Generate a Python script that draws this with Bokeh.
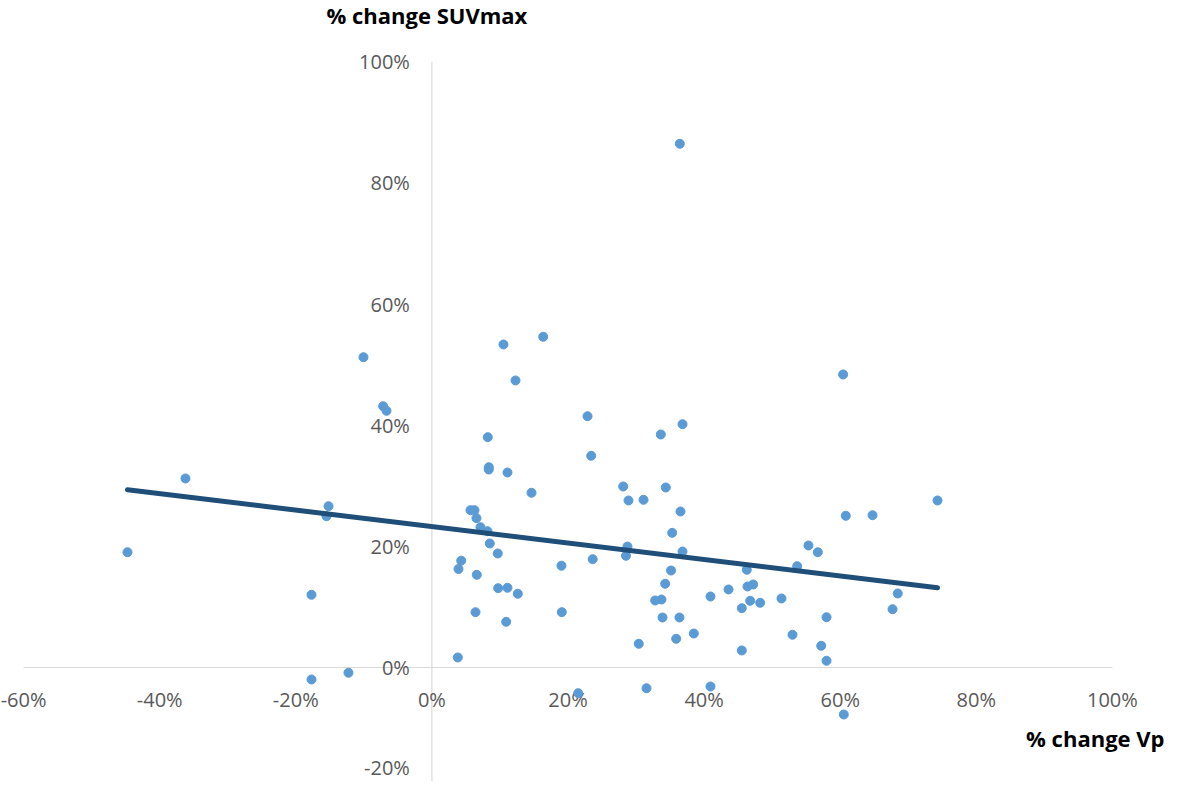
from bokeh.plotting import figure
from bokeh.models import Range1d, ColumnDataSource
from bokeh.core.properties import value
from bokeh.embed import file_html
from bokeh.resources import INLINE

# ---- data, in percent ----
vp_change = [36.43, 16.36, 10.52, -10.05, 12.29, 60.43, -7.16, -6.67, 22.87, 36.83,
             33.64, 8.21, 23.41, 8.36, 8.36, 11.11, -36.21, 14.64, 28.11, 34.37,
             28.89, 31.10, 74.30, -15.19, 5.67, 6.26, 36.53, 60.82, 64.75, -15.49,
             6.55, 7.14, 8.17, 35.31, 8.51, 55.34, 28.74, 36.83, -44.73, 56.71,
             9.68, 28.52, 23.63, 4.31, 19.04, 53.68, 46.27, 3.91, 35.14, 6.60,
             34.28, 47.21, 46.38, 43.59, 68.46, -17.69, 9.74, 11.11, 12.62, 40.94,
             51.37, 33.74, 32.81, 46.77, 48.24, 45.54, 67.69, 6.41, 19.09, 33.89,
             36.38, 57.99, 10.92, 38.49, 52.99, 35.90, 30.40, 57.21, 45.54, 57.99,
             3.81, -12.26, -17.69, 21.50, 31.54, 40.94, 60.53]
suv_change = [86.45, 54.59, 53.32, 51.22, 47.38, 48.37, 43.13, 42.37, 41.48, 40.16,
              38.46, 38.02, 34.95, 33.06, 32.68, 32.19, 31.20, 28.84, 29.88, 29.71,
              27.57, 27.68, 27.57, 26.63, 25.97, 25.97, 25.75, 25.04, 25.14, 24.97,
              24.65, 23.16, 22.50, 22.23, 20.47, 20.14, 19.97, 19.15, 19.03, 19.03,
              18.82, 18.44, 17.88, 17.63, 16.80, 16.72, 16.13, 16.26, 16.01, 15.30,
              13.82, 13.70, 13.37, 12.88, 12.22, 12.00, 13.09, 13.16, 12.17, 11.72,
              11.39, 11.22, 11.06, 11.01, 10.68, 9.79, 9.62, 9.13, 9.13, 8.25,
              8.25, 8.30, 7.54, 5.61, 5.40, 4.74, 3.91, 3.58, 2.81, 1.11,
              1.65, -0.87, -1.98, -4.24, -3.42, -3.14, -7.76]

# linear trendline as drawn in the reference
trend_slope = -0.136
trend_intercept = 23.26

x_ticks = [-60, -40, -20, 0, 20, 40, 60, 80, 100]
x_tick_labels = ["-60%", "-40%", "-20%", "0%", "20%", "40%", "60%", "80%", "100%"]
y_ticks = [-20, 0, 20, 40, 60, 80, 100]
y_tick_labels = ["-20%", "0%", "20%", "40%", "60%", "80%", "100%"]

y_title = "% change SUVmax"
x_title = "% change Vp"

# ---- styling ----
DOT = "#5B9BD5"
TREND = "#1F4E79"
AXIS = "#D9D9D9"
TICK_TXT = "#595959"
FONT = value("Open Sans")

p = figure(width=1165, height=781,
           x_range=Range1d(-63.39, 107.80), y_range=Range1d(-18.82, 110.10),
           x_axis_type=None, y_axis_type=None,
           toolbar_location=None, output_backend="svg", min_border=0)
p.outline_line_color = None
p.grid.visible = False
p.background_fill_color = "white"
p.border_fill_color = "white"

# axes crossing at zero
p.segment(x0=[x_ticks[0], 0], y0=[0, y_ticks[0]],
          x1=[x_ticks[-1], 0], y1=[0, y_ticks[-1]],
          line_color=AXIS, line_width=1.2)

# x tick labels (next to the horizontal axis)
xsrc = ColumnDataSource(dict(x=x_ticks, y=[0] * len(x_ticks), t=x_tick_labels))
p.text(x="x", y="y", text="t", source=xsrc, text_font=FONT, text_font_size="20px",
       text_color=TICK_TXT, text_align="center", text_baseline="middle", y_offset=32)

# y tick labels (left of the vertical axis)
ysrc = ColumnDataSource(dict(x=[0] * (len(y_ticks) - 1), y=y_ticks[1:], t=y_tick_labels[1:]))
p.text(x="x", y="y", text="t", source=ysrc, text_font=FONT, text_font_size="20px",
       text_color=TICK_TXT, text_align="right", text_baseline="middle", x_offset=-22)
p.text(x=[0], y=[p.y_range.start], text=[y_tick_labels[0]], text_font=FONT,
       text_font_size="20px", text_color=TICK_TXT, text_align="right",
       text_baseline="bottom", x_offset=-22, y_offset=-1)

# scatter points
p.scatter(vp_change, suv_change, size=9, fill_color=DOT, line_color=DOT)

# trendline over the data's x extent
tx = [min(vp_change), max(vp_change)]
ty = [trend_intercept + trend_slope * v for v in tx]
p.line(tx, ty, line_color=TREND, line_width=5, line_cap="round")

# axis titles
p.text(x=[0], y=[y_ticks[-1]], text=[y_title], text_font=FONT, text_font_size="22px",
       text_font_style="bold", text_color="black", text_align="center",
       text_baseline="middle", x_offset=-5, y_offset=-47)
p.text(x=[p.x_range.end], y=[0], text=[x_title], text_font=FONT, text_font_size="22px",
       text_font_style="bold", text_color="black", text_align="right",
       text_baseline="middle", y_offset=71, x_offset=-1)

open("out.html", "w").write(file_html(p, INLINE))
